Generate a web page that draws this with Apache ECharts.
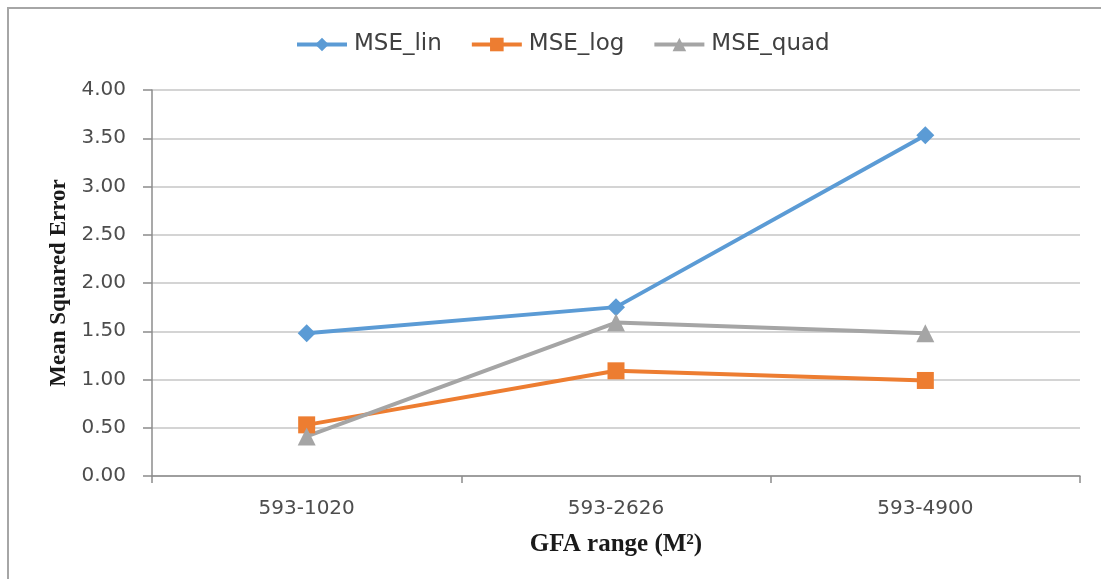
<!DOCTYPE html>
<html>
<head>
<meta charset="utf-8">
<title>MSE by GFA range</title>
<script src="https://cdn.jsdelivr.net/npm/echarts@6/dist/echarts.min.js"></script>
<style>
  html, body { margin: 0; padding: 0; background: #ffffff; }
  #chart { width: 1101px; height: 579px; }
</style>
</head>
<body>
<div id="chart"></div>
<script>
// GFA ranges on the category axis
const categories = ['593-1020', '593-2626', '593-4900'];

// Mean squared error per model
const mseLin = [1.48, 1.75, 3.53];
const mseLog = [0.53, 1.09, 0.99];
const mseQuad = [0.41, 1.59, 1.48];

// Value axis ticks
const yTicks = [0, 0.5, 1, 1.5, 2, 2.5, 3, 3.5, 4];

const tickFont = 'DejaVu Sans';
const titleFont = 'Liberation Serif';

const chart = echarts.init(document.getElementById('chart'), null, { renderer: 'canvas' });

function lineSeries(name, data, color, symbol, size) {
  return {
    name: name,
    type: 'line',
    data: data,
    symbol: symbol,
    symbolSize: size,
    lineStyle: { color: color, width: 4 },
    itemStyle: { color: color },
    emphasis: { disabled: true },
    z: 3
  };
}

chart.setOption({
  animation: false,
  backgroundColor: '#ffffff',
  color: ['#5B9BD5', '#ED7D31', '#A5A5A5'],
  legend: {
    top: 33,
    left: 295,
    padding: 0,
    itemWidth: 50,
    itemHeight: 17,
    itemGap: 28,
    lineStyle: { width: 4 },
    textStyle: { fontFamily: tickFont, fontSize: 23, color: '#404040', padding: [0, 0, 0, 2] },
    data: ['MSE_lin', 'MSE_log', 'MSE_quad']
  },
  grid: { left: 152, right: 21, top: 90, bottom: 103, containLabel: false },
  xAxis: {
    type: 'category',
    data: categories,
    boundaryGap: true,
    name: 'GFA range (M²)',
    nameLocation: 'middle',
    nameGap: 56,
    nameTextStyle: { fontFamily: titleFont, fontWeight: 'bold', fontSize: 25, color: '#1a1a1a' },
    axisLine: { show: true, lineStyle: { color: '#8c8c8c', width: 1.5 } },
    axisTick: { show: true, length: 7, alignWithLabel: false, lineStyle: { color: '#8c8c8c', width: 1.5 } },
    axisLabel: { margin: 23, fontFamily: tickFont, fontSize: 20, color: '#4d4d4d' },
    splitLine: { show: false }
  },
  yAxis: {
    type: 'value',
    min: yTicks[0],
    max: yTicks[yTicks.length - 1],
    interval: yTicks[1] - yTicks[0],
    name: 'Mean Squared Error',
    nameLocation: 'middle',
    nameGap: 79,
    nameRotate: 90,
    nameTextStyle: { fontFamily: titleFont, fontWeight: 'bold', fontSize: 23, color: '#1a1a1a' },
    axisLine: { show: true, lineStyle: { color: '#8c8c8c', width: 1.5 } },
    axisTick: { show: true, length: 9, lineStyle: { color: '#8c8c8c', width: 1.5 } },
    axisLabel: {
      margin: 26,
      fontFamily: tickFont,
      fontSize: 20,
      color: '#4d4d4d',
      formatter: v => v.toFixed(2)
    },
    splitLine: { show: true, lineStyle: { color: '#d4d4d4', width: 2 } }
  },
  series: [
    lineSeries('MSE_lin', mseLin, '#5B9BD5', 'diamond', 18),
    lineSeries('MSE_log', mseLog, '#ED7D31', 'rect', 17),
    lineSeries('MSE_quad', mseQuad, '#A5A5A5', 'triangle', 18)
  ],
  graphic: [
    {
      type: 'polyline',
      shape: { points: [[8, 579], [8, 8], [1101, 8]] },
      style: { stroke: '#a6a6a6', lineWidth: 2, fill: null },
      silent: true
    }
  ]
});
</script>
</body>
</html>
